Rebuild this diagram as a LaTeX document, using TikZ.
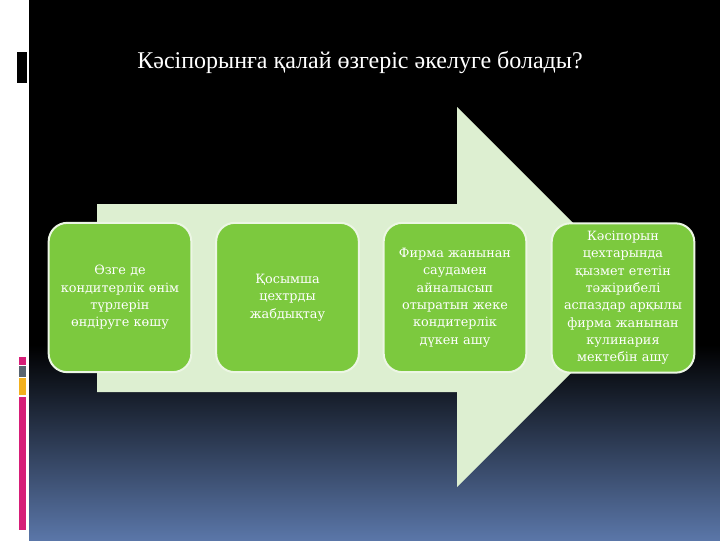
\documentclass[tikz,border=0pt]{standalone}
\usepackage{fontspec}
\setmainfont{Liberation Serif}
\newfontfamily\boxfont{DejaVu Serif}
\definecolor{arrowgreen}{RGB}{221,239,209}
\definecolor{boxgreen}{RGB}{124,201,62}
\definecolor{boxrim}{RGB}{236,246,228}
\definecolor{slideblue}{RGB}{90,118,168}
\definecolor{barpink}{RGB}{214,30,120}
\definecolor{bargrey}{RGB}{88,100,112}
\definecolor{barorange}{RGB}{242,176,30}
\tikzset{every picture/.style={line width=0.75pt}}
\tikzset{
  actionbox/.style={draw=boxrim, line width=1.5pt, fill=boxgreen, rounded corners=14pt,
    minimum width=107pt, minimum height=112pt, text width=100pt, align=center,
    text=white, font=\boxfont\fontsize{9.6}{13}\selectfont},
  titletext/.style={text=white, font=\fontsize{18}{22}\selectfont}
}

\begin{document}
\begin{tikzpicture}[x=0.75pt,y=0.75pt,yscale=-1,xscale=1]
	\useasboundingbox (0,0) rectangle (720,540);

	%Shape: Rectangle [id:background]
	\fill[white] (0,0) rectangle (720,540);
	\fill[black] (29,0) rectangle (720,346);
	\shade[top color=black, bottom color=slideblue] (29,345) rectangle (720,540);
	%Shape: Rectangle [id:leftmark]
	\fill[black] (17,52) rectangle (27,83);
	%Shape: Rectangle [id:colourbars]
	\fill[barpink] (19,357) rectangle (26,365);
	\fill[bargrey] (19,366) rectangle (26,377);
	\fill[barorange] (19,378) rectangle (26,395);
	\fill[barpink] (19,397) rectangle (26,530);

	%Shape: Right Arrow [id:bigarrow]
	\fill[arrowgreen] (97,204) -- (457,204) -- (457,107) -- (647,297) -- (457,487) -- (457,392) -- (97,392) -- cycle ;

	% Text Node
	\node[titletext] (title) at (360,62) {Кәсіпорынға қалай өзгеріс әкелуге болады?};

	% Text Node
	\node[actionbox] (types) at (120,297.5) {Өзге де\\кондитерлік өнім\\түрлерін\\өндіруге көшу};
	% Text Node
	\node[actionbox] (equip) at (287.5,297.5) {Қосымша\\цехтрды\\жабдықтау};
	% Text Node
	\node[actionbox] (shop) at (455,297.5) {Фирма жанынан\\саудамен\\айналысып\\отыратын жеке\\кондитерлік\\дүкен ашу};
	% Text Node
	\node[actionbox] (school) at (623,298) {Кәсіпорын\\цехтарында\\қызмет ететін\\тәжірибелі\\аспаздар арқылы\\фирма жанынан\\кулинария\\мектебін ашу};

\end{tikzpicture}
\end{document}
